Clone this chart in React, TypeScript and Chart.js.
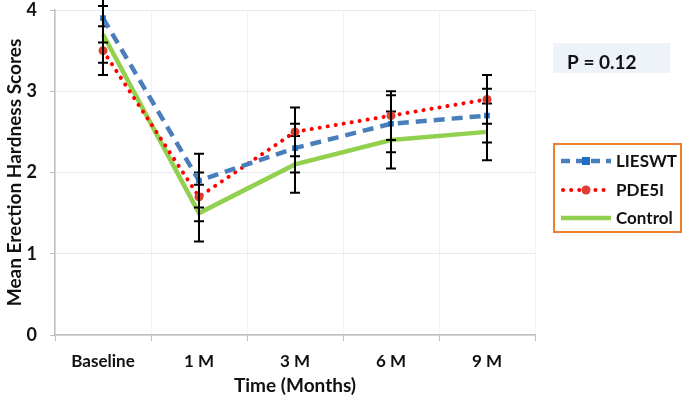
import React, { useEffect, useRef } from "react";
import { Chart, registerables } from "chart.js";

Chart.register(...registerables);

const categories = ["Baseline", "1 M", "3 M", "6 M", "9 M"];
const lieswt = [3.9, 1.9, 2.3, 2.6, 2.7];
const pde5i = [3.5, 1.7, 2.5, 2.7, 2.9];
const control = [3.7, 1.5, 2.1, 2.4, 2.5];
const lieswtErr = [0.3, 0.33, 0.3, 0.35, 0.33];
const pde5iErr = [0.3, 0.3, 0.3, 0.3, 0.3];
const controlErr = [0.35, 0.35, 0.35, 0.35, 0.35];
const seriesNames = ["LIESWT", "PDE5I", "Control"];
const pValueText = "P = 0.12";
const yTitle = "Mean Erection Hardness Scores";
const xTitle = "Time (Months)";

const FONT = "Lato, 'Open Sans', sans-serif";
const errs = [lieswtErr, pde5iErr, controlErr];

const errorBarPlugin = {
  id: "errorBars",
  afterDatasetDraw(chart: any, args: any) {
    const i = args.index;
    const e = errs[i];
    if (!e) return;
    const ds = chart.data.datasets[i];
    const meta = chart.getDatasetMeta(i);
    const ys = chart.scales.y;
    const ctx = chart.ctx;
    ctx.save();
    ctx.strokeStyle = "#000";
    ctx.lineWidth = 2;
    meta.data.forEach((pt: any, j: number) => {
      const v = ds.data[j];
      const top = ys.getPixelForValue(v + e[j]);
      const bot = ys.getPixelForValue(v - e[j]);
      const x = pt.x;
      ctx.beginPath();
      ctx.moveTo(x, top);
      ctx.lineTo(x, bot);
      ctx.moveTo(x - 5, top);
      ctx.lineTo(x + 5, top);
      ctx.moveTo(x - 5, bot);
      ctx.lineTo(x + 5, bot);
      ctx.stroke();
    });
    ctx.restore();
  },
};

const overlayPlugin = {
  id: "overlay",
  afterDraw(chart: any) {
    const ctx = chart.ctx;
    ctx.save();
    // P value box
    ctx.fillStyle = "#eef3fa";
    ctx.fillRect(553, 43, 117, 30);
    ctx.fillStyle = "#111";
    ctx.font = `bold 19px ${FONT}`;
    ctx.textBaseline = "alphabetic";
    ctx.textAlign = "left";
    ctx.fillText(pValueText, 567, 69);

    // legend box
    ctx.strokeStyle = "#ed7d31";
    ctx.lineWidth = 2;
    ctx.strokeRect(554, 144, 127, 88);
    const ys = [161, 190, 218];
    const x0 = 561, x1 = 611, xm = 586;
    // LIESWT
    ctx.strokeStyle = "#4a7ebb";
    ctx.lineWidth = 4.5;
    ctx.setLineDash([9, 6]);
    ctx.lineCap = "butt";
    ctx.beginPath();
    ctx.moveTo(x0, ys[0]);
    ctx.lineTo(x1, ys[0]);
    ctx.stroke();
    ctx.setLineDash([]);
    ctx.fillStyle = "#1f6fc5";
    ctx.fillRect(xm - 4, ys[0] - 4, 8, 8);
    // PDE5I
    ctx.strokeStyle = "#ff0000";
    ctx.lineWidth = 4;
    ctx.lineCap = "round";
    ctx.setLineDash([0.1, 8]);
    ctx.beginPath();
    ctx.moveTo(x0 + 2, ys[1]);
    ctx.lineTo(x1, ys[1]);
    ctx.stroke();
    ctx.setLineDash([]);
    ctx.fillStyle = "#e03c31";
    ctx.beginPath();
    ctx.arc(xm, ys[1], 4.5, 0, Math.PI * 2);
    ctx.fill();
    // Control
    ctx.strokeStyle = "#92d050";
    ctx.lineWidth = 4.5;
    ctx.lineCap = "butt";
    ctx.beginPath();
    ctx.moveTo(x0, ys[2]);
    ctx.lineTo(x1, ys[2]);
    ctx.stroke();

    ctx.fillStyle = "#111";
    ctx.font = `bold 17px ${FONT}`;
    ctx.textBaseline = "middle";
    seriesNames.forEach((n, k) => ctx.fillText(n, 616, ys[k] + 1));
    ctx.restore();
  },
};

export default function App() {
  const ref = useRef<HTMLCanvasElement>(null);
  useEffect(() => {
    const chart = new Chart(ref.current!, {
      type: "line",
      data: {
        labels: categories,
        datasets: [
          {
            label: seriesNames[0],
            data: lieswt,
            borderColor: "#4a7ebb",
            borderWidth: 4.5,
            borderDash: [11, 7],
            pointStyle: "rect",
            pointRadius: 4,
            pointBackgroundColor: "#1f6fc5",
            pointBorderColor: "#1f6fc5",
            pointBorderWidth: 0,
            tension: 0,
          },
          {
            label: seriesNames[1],
            data: pde5i,
            borderColor: "#ff0000",
            borderWidth: 4,
            borderDash: [0.1, 8],
            borderCapStyle: "round",
            pointStyle: "circle",
            pointRadius: 4.5,
            pointBackgroundColor: "#e03c31",
            pointBorderColor: "#e03c31",
            pointBorderWidth: 0,
            tension: 0,
          },
          {
            label: seriesNames[2],
            data: control,
            borderColor: "#92d050",
            borderWidth: 4.5,
            pointRadius: 0,
            tension: 0,
          },
        ],
      },
      options: {
        animation: false,
        responsive: true,
        maintainAspectRatio: false,
        layout: { padding: { top: 0, right: 150, left: 0, bottom: 0 } },
        plugins: { legend: { display: false }, tooltip: { enabled: false } },
        scales: {
          x: {
            offset: true,
            grid: {
              offset: true,
              color: "rgba(225,232,242,0.5)",
              tickColor: "#bfbfbf",
              tickLength: 6,
            },
            border: { color: "#bfbfbf", width: 1.5 },
            ticks: {
              color: "#111",
              font: { family: FONT, size: 17, weight: "bold" },
              padding: 10,
              maxRotation: 0,
            },
            title: {
              display: true,
              text: xTitle,
              color: "#111",
              font: { family: FONT, size: 19, weight: "bold" },
              padding: { top: 0, bottom: 3 },
            },
            afterFit(scale: any) {
              scale.height = 65;
            },
          },
          y: {
            min: 0,
            max: 4,
            ticks: {
              stepSize: 1,
              color: "#111",
              font: { family: FONT, size: 18, weight: "bold", lineHeight: 1.1 },
              padding: 13,
            },
            grid: {
              color: "rgba(220,229,242,0.8)",
              tickColor: "#bfbfbf",
              tickLength: 5,
            },
            border: { color: "#bfbfbf", width: 1.5 },
            title: {
              display: true,
              text: yTitle,
              color: "#111",
              font: { family: FONT, size: 19, weight: "bold" },
              padding: { top: 3, bottom: 0 },
            },
            afterFit(scale: any) {
              scale.width = 55;
              scale.paddingTop = 10;
              scale.paddingBottom = 0;
            },
          },
        },
      },
      plugins: [errorBarPlugin, overlayPlugin],
    } as any);
    return () => chart.destroy();
  }, []);
  return (
    <div style={{ position: "absolute", left: 0, top: 0, width: 685, height: 400, background: "#fff" }}>
      <canvas ref={ref} />
    </div>
  );
}
